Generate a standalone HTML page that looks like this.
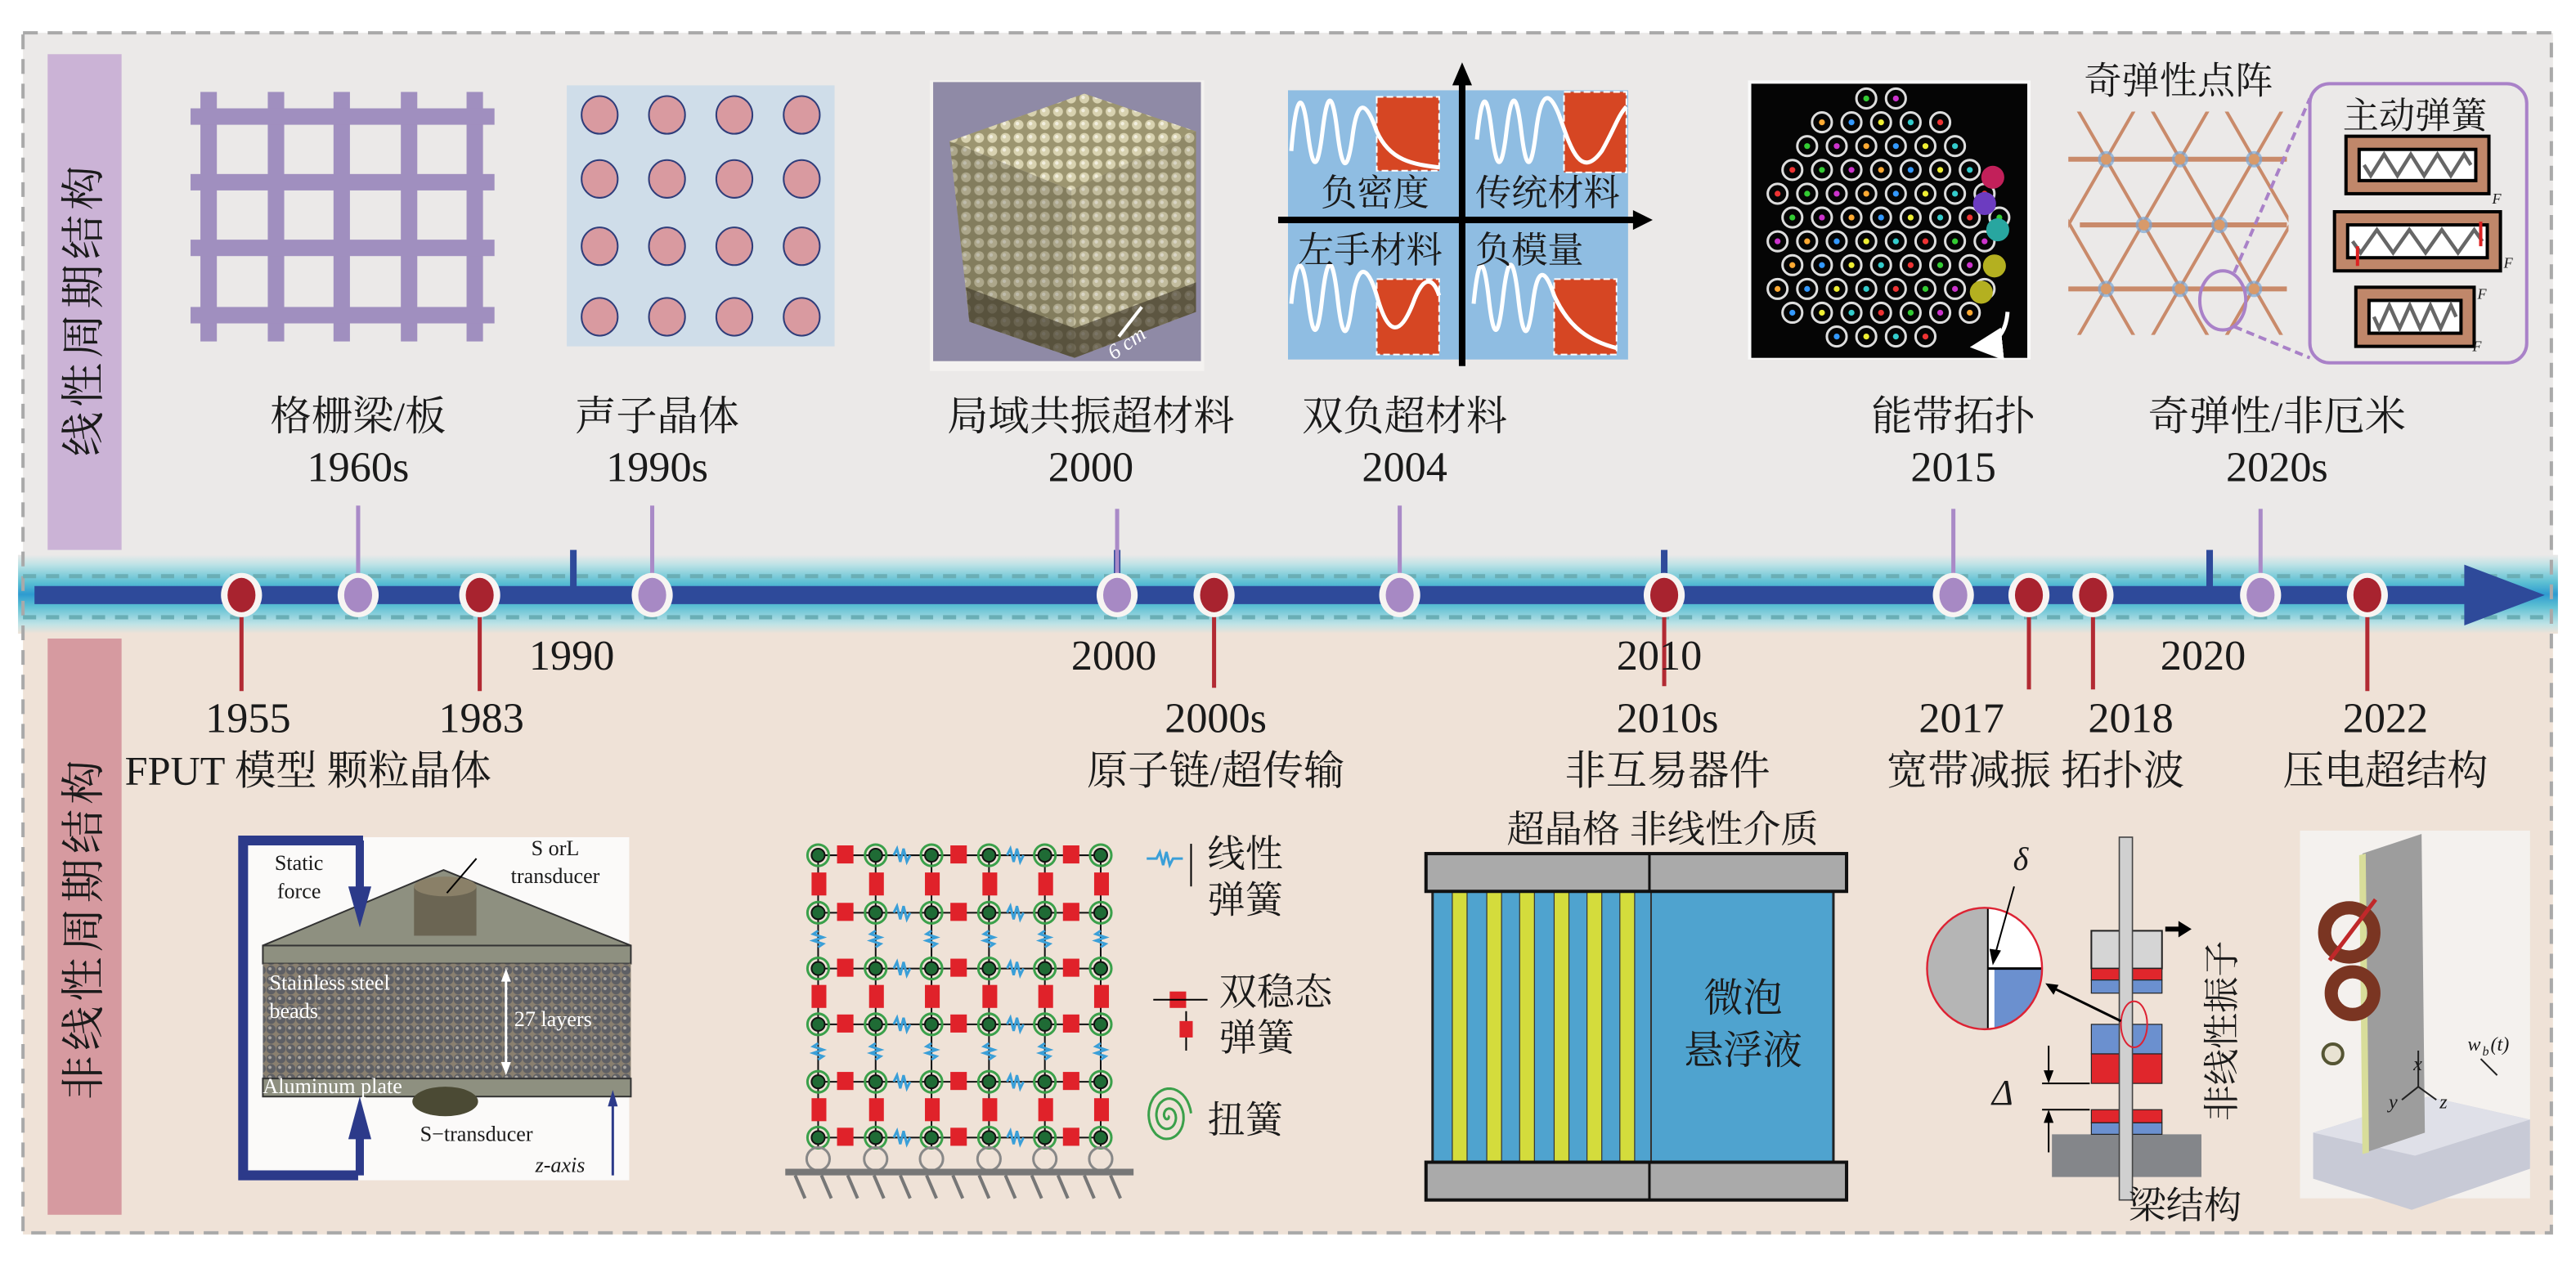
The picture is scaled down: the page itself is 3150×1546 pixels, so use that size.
<!DOCTYPE html>
<html><head><meta charset="utf-8"><style>
html,body{margin:0;padding:0;background:#fff;}
svg{display:block;}
text{font-family:"Liberation Serif","Noto Serif CJK SC","Noto Sans CJK SC",serif;fill:#1a1a1a;}
.cn{font-size:25px;}
.num{font-size:26px;}
</style></head><body>
<svg id="s" xmlns="http://www.w3.org/2000/svg" width="3150" height="1546" viewBox="0 0 1568 770" preserveAspectRatio="none">
<defs>
<linearGradient id="band" x1="0" y1="0" x2="0" y2="1">
<stop offset="0" stop-color="#ebe9e8"/>
<stop offset="0.12" stop-color="#bfe3e6"/>
<stop offset="0.35" stop-color="#5cbfd3"/>
<stop offset="0.5" stop-color="#2e9bd0"/>
<stop offset="0.65" stop-color="#5cbfd3"/>
<stop offset="0.88" stop-color="#bfe3e6"/>
<stop offset="1" stop-color="#efe2d7"/>
</linearGradient>
<pattern id="beads" width="6" height="6" patternUnits="userSpaceOnUse">
<rect width="6" height="6" fill="#8a8070"/>
<circle cx="3" cy="3" r="2.8" fill="#5e5f64"/><circle cx="2.3" cy="2.2" r="1" fill="#aaa6a0"/>
</pattern>
<pattern id="cubedots" width="8" height="8" patternUnits="userSpaceOnUse">
<rect width="8" height="8" fill="#9c9570"/>
<circle cx="4" cy="4" r="3" fill="#d8d2b0"/><circle cx="3.3" cy="3.3" r="1.1" fill="#f2efe0"/>
</pattern>
<clipPath id="latclip"><rect x="1259" y="68" width="134" height="136"/></clipPath>
<marker id="ah" markerWidth="8" markerHeight="8" refX="6" refY="4" orient="auto"><path d="M0,0 L8,4 L0,8 z" fill="#fff"/></marker>
</defs>

<rect x="14" y="20" width="1540" height="330" fill="#ebe9e8"/>
<rect x="14" y="370" width="1540" height="382" fill="#efe2d7"/>
<rect x="11" y="338" width="1546" height="48" fill="url(#band)"/>
<rect x="14" y="20" width="1539" height="731" fill="none" stroke="#a9a9a9" stroke-width="2" stroke-dasharray="9,6"/>
<line x1="14" y1="351" x2="1553" y2="351" stroke="#6aaeb5" stroke-width="2.5" stroke-dasharray="8,6"/>
<line x1="14" y1="376" x2="1553" y2="376" stroke="#6aaeb5" stroke-width="2.5" stroke-dasharray="8,6"/>

<rect x="29" y="33" width="45" height="302" fill="#cbb3d6"/>
<rect x="29" y="389" width="45" height="351" fill="#d69aa0"/>
<text class="cn" transform="translate(60,188) rotate(-90)" text-anchor="middle" style="font-size:27px;letter-spacing:3px">线性周期结构</text>
<text class="cn" transform="translate(60,565) rotate(-90)" text-anchor="middle" style="font-size:27px;letter-spacing:3px">非线性周期结构</text>

<rect x="21" y="357" width="1482" height="11" fill="#2e4a9a"/>
<polygon points="1500,344 1549,362.5 1500,381" fill="#2e4a9a"/>

<g fill="#2e4a9a">
<rect x="347" y="335" width="4" height="23"/><rect x="678" y="335" width="4" height="23"/>
<rect x="1011" y="335" width="4" height="23"/><rect x="1343" y="335" width="4" height="23"/>
</g>

<g stroke="#a98ac7" stroke-width="2.5">
<line x1="218" y1="308" x2="218" y2="355"/><line x1="397" y1="308" x2="397" y2="355"/>
<line x1="680" y1="310" x2="680" y2="355"/><line x1="852" y1="308" x2="852" y2="355"/>
<line x1="1189" y1="310" x2="1189" y2="355"/><line x1="1376" y1="310" x2="1376" y2="355"/>
</g>
<g stroke="#b22a33" stroke-width="2.5">
<line x1="147" y1="370" x2="147" y2="421"/><line x1="292" y1="370" x2="292" y2="421"/>
<line x1="739" y1="370" x2="739" y2="419"/><line x1="1013" y1="370" x2="1013" y2="418"/>
<line x1="1235" y1="370" x2="1235" y2="420"/><line x1="1274" y1="370" x2="1274" y2="420"/>
<line x1="1441" y1="370" x2="1441" y2="421"/>
</g>

<g id="markers"></g>

<g text-anchor="middle">
<text class="num" x="348" y="408">1990</text>
<text class="num" x="678" y="408">2000</text>
<text class="num" x="1010" y="408">2010</text>
<text class="num" x="1341" y="408">2020</text>
<text class="num" x="151" y="446">1955</text>
<text class="num" x="293" y="446">1983</text>
<text class="num" x="740" y="446">2000s</text>
<text class="num" x="1015" y="446">2010s</text>
<text class="num" x="1194" y="446">2017</text>
<text class="num" x="1297" y="446">2018</text>
<text class="num" x="1452" y="446">2022</text>
</g>
<text class="cn" x="76" y="478">FPUT 模型 颗粒晶体</text>
<text class="cn" x="740" y="478" text-anchor="middle">原子链/超传输</text>
<text class="cn" x="1015" y="478" text-anchor="middle">非互易器件</text>
<text class="cn" x="1239" y="478" text-anchor="middle">宽带减振 拓扑波</text>
<text class="cn" x="1452" y="478" text-anchor="middle">压电超结构</text>

<text class="cn" x="218" y="262" text-anchor="middle">格栅梁/板</text>
<text class="num" x="218" y="293" text-anchor="middle">1960s</text>
<text class="cn" x="400" y="262" text-anchor="middle">声子晶体</text>
<text class="num" x="400" y="293" text-anchor="middle">1990s</text>
<text class="cn" x="664" y="262" text-anchor="middle">局域共振超材料</text>
<text class="num" x="664" y="293" text-anchor="middle">2000</text>
<text class="cn" x="855" y="262" text-anchor="middle">双负超材料</text>
<text class="num" x="855" y="293" text-anchor="middle">2004</text>
<text class="cn" x="1189" y="262" text-anchor="middle">能带拓扑</text>
<text class="num" x="1189" y="293" text-anchor="middle">2015</text>
<text class="cn" x="1386" y="262" text-anchor="middle">奇弹性/非厄米</text>
<text class="num" x="1386" y="293" text-anchor="middle">2020s</text>

<g fill="#a08fbf">
<rect x="122" y="56" width="10" height="152"/><rect x="163" y="56" width="10" height="152"/>
<rect x="203" y="56" width="10" height="152"/><rect x="244" y="56" width="10" height="152"/>
<rect x="284" y="56" width="10" height="152"/>
<rect x="116" y="66" width="185" height="10"/><rect x="116" y="106" width="185" height="10"/>
<rect x="116" y="146" width="185" height="10"/><rect x="116" y="187" width="185" height="10"/>
</g>

<rect x="345" y="52" width="163" height="159" fill="#cfdde9"/>
<g id="pc" fill="#d99aa0" stroke="#2f3d7a" stroke-width="1"></g>

<!-- cube photo -->
<rect x="566" y="49" width="167" height="177" fill="#f4f2f0"/>
<rect x="568" y="50" width="163" height="170" fill="#8f8aa6"/>
<polygon points="578,86 660,57 728,80 652,116" fill="url(#cubedots)"/>
<polygon points="578,86 652,116 654,218 590,196" fill="url(#cubedots)"/>
<polygon points="652,116 728,80 728,190 654,218" fill="url(#cubedots)"/>
<polygon points="578,86 652,116 654,218 590,196" fill="#4a4535" opacity="0.3"/>
<polygon points="652,116 728,80 728,190 654,218" fill="#4a4535" opacity="0.15"/>
<polygon points="588,175 654,200 728,172 728,190 654,218 590,196" fill="#3c3528" opacity="0.6"/>
<line x1="681" y1="205" x2="695" y2="187" stroke="#fff" stroke-width="2"/>
<text x="674" y="217" transform="rotate(-35 680 212)" style="font-size:13px;font-style:italic;fill:#fff">6 cm</text>

<!-- double negative -->
<rect x="784" y="55" width="207" height="164" fill="#8fbde2"/>
<g fill="#d64623" stroke="#fff" stroke-width="1" stroke-dasharray="4,2">
<rect x="838" y="59" width="38" height="45"/><rect x="952" y="56" width="38" height="49"/>
<rect x="838" y="170" width="38" height="46"/><rect x="946" y="170" width="38" height="46"/>
</g>
<g fill="none" stroke="#fff" stroke-width="2.5">
<path d="M786,92 C789,55 793,55 796,80 C799,105 802,105 805,80 C808,55 811,55 814,80 C817,105 820,105 823,85 C826,60 831,60 838,80 C846,98 860,100 876,102"/>
<path d="M899,85 C902,55 905,55 908,80 C911,105 914,105 917,80 C920,55 923,55 926,80 C929,105 932,105 935,80 C938,55 943,55 949,70 C956,90 962,110 975,92 C982,80 985,70 990,65"/>
<path d="M786,185 C789,155 793,155 796,180 C799,208 802,208 805,180 C808,155 811,155 814,180 C817,208 820,208 823,185 C826,160 832,160 838,180 C845,205 852,205 860,185 C866,168 872,168 876,180"/>
<path d="M897,185 C900,155 903,155 906,180 C909,208 912,208 915,180 C918,155 921,155 924,180 C927,208 930,208 933,185 C936,160 941,165 946,180 C955,200 968,208 984,212"/>
</g>
<line x1="890" y1="50" x2="890" y2="223" stroke="#000" stroke-width="4"/>
<polygon points="884,52 890,38 896,52" fill="#000"/>
<line x1="778" y1="134" x2="996" y2="134" stroke="#000" stroke-width="4"/>
<polygon points="994,128 1006,134 994,140" fill="#000"/>
<text x="837" y="125" text-anchor="middle" style="font-size:22px">负密度</text>
<text x="942" y="125" text-anchor="middle" style="font-size:22px">传统材料</text>
<text x="834" y="160" text-anchor="middle" style="font-size:22px">左手材料</text>
<text x="931" y="160" text-anchor="middle" style="font-size:22px">负模量</text>

<!-- topology photo -->
<rect x="1064" y="49" width="172" height="170" fill="#fafafa"/>
<rect x="1066" y="51" width="168" height="167" fill="#050505"/>
<g id="topo"></g>
<path d="M1222,190 C1221,204 1214,210 1204,211" fill="none" stroke="#fff" stroke-width="2.5" marker-end="url(#ah)"/>

<!-- odd elasticity -->
<text x="1326" y="57" text-anchor="middle" style="font-size:23px">奇弹性点阵</text>
<g id="lat" clip-path="url(#latclip)" stroke="#c98a6a" stroke-width="2"></g>
<g stroke="#c98a6a" stroke-width="3">
<line x1="1259" y1="97" x2="1392" y2="97"/><line x1="1266" y1="137" x2="1392" y2="137"/><line x1="1259" y1="176" x2="1392" y2="176"/>
</g>
<g id="nodes"></g>
<ellipse cx="1353" cy="183" rx="14" ry="18" fill="none" stroke="#a981c8" stroke-width="2"/>
<line x1="1360" y1="166" x2="1406" y2="60" stroke="#a981c8" stroke-width="2" stroke-dasharray="5,3"/>
<line x1="1360" y1="199" x2="1406" y2="218" stroke="#a981c8" stroke-width="2" stroke-dasharray="5,3"/>
<rect x="1406" y="51" width="132" height="170" rx="12" fill="#ebe9e8" stroke="#a981c8" stroke-width="2"/>
<text x="1470" y="78" text-anchor="middle" style="font-size:22px">主动弹簧</text>
<g id="springs"></g>
<g style="font-size:9px;font-style:italic">
<text x="1517" y="124">F</text><text x="1524" y="163">F</text><text x="1508" y="182">F</text><text x="1505" y="214">F</text>
</g>

<!-- granular crystal -->
<rect x="146" y="510" width="237" height="209" fill="#fbfaf9"/>
<polygon points="160,576 270,530 384,576" fill="#8e9080" stroke="#333" stroke-width="1"/>
<rect x="252" y="540" width="38" height="30" fill="#6b6553"/>
<ellipse cx="271" cy="540" rx="19" ry="6" fill="#8a8068"/>
<line x1="272" y1="544" x2="290" y2="523" stroke="#000" stroke-width="1"/>
<rect x="160" y="576" width="224" height="11" fill="#8e9080" stroke="#333" stroke-width="1"/>
<rect x="160" y="587" width="224" height="70" fill="url(#beads)"/>
<rect x="160" y="657" width="224" height="11" fill="#8e9080" stroke="#333" stroke-width="1"/>
<ellipse cx="271" cy="671" rx="20" ry="9" fill="#4b4a34"/>
<path d="M221,512 L148,512 L148,716 L218,716" fill="none" stroke="#2c3a8a" stroke-width="6"/>
<line x1="219" y1="512" x2="219" y2="555" stroke="#2c3a8a" stroke-width="5"/>
<polygon points="212,540 219,565 226,540" fill="#2c3a8a"/>
<line x1="219" y1="716" x2="219" y2="680" stroke="#2c3a8a" stroke-width="5"/>
<polygon points="212,694 219,668 226,694" fill="#2c3a8a"/>
<line x1="373" y1="716" x2="373" y2="668" stroke="#2c3a8a" stroke-width="1.5"/>
<polygon points="370,674 373,664 376,674" fill="#2c3a8a"/>
<line x1="308" y1="592" x2="308" y2="653" stroke="#fff" stroke-width="1.5"/>
<polygon points="305,598 308,590 311,598" fill="#fff"/><polygon points="305,647 308,655 311,647" fill="#fff"/>
<g style="font-size:13px">
<text x="182" y="530" text-anchor="middle">Static</text>
<text x="182" y="547" text-anchor="middle">force</text>
<text x="338" y="521" text-anchor="middle">S orL</text>
<text x="338" y="538" text-anchor="middle">transducer</text>
<text x="164" y="603" style="fill:#fff">Stainless steel</text>
<text x="164" y="620" style="fill:#fff">beads</text>
<text x="313" y="625" style="fill:#fff">27 layers</text>
<text x="160" y="666" style="fill:#fff">Aluminum plate</text>
<text x="290" y="695" text-anchor="middle">S−transducer</text>
<text x="341" y="714" text-anchor="middle" style="font-style:italic">z-axis</text>
</g>

<!-- spring lattice -->
<g id="sl"></g>
<line x1="478" y1="714" x2="690" y2="714" stroke="#777" stroke-width="4"/>
<g id="hatch" stroke="#777" stroke-width="2"></g>
<g style="font-size:23px">
<text x="735" y="528">线性</text><text x="735" y="556">弹簧</text>
<text x="742" y="612">双稳态</text><text x="742" y="640">弹簧</text>
<text x="735" y="690">扭簧</text>
</g>
<g stroke="#3a9fd8" stroke-width="1.5" fill="none"><path d="M698,523 h6 l2,-4 l2,8 l2,-8 l2,8 l2,-4 h6"/></g>
<line x1="725" y1="514" x2="725" y2="540" stroke="#000"/>
<rect x="712" y="604" width="10" height="10" fill="#e0222a"/><line x1="702" y1="609" x2="735" y2="609" stroke="#000"/>
<line x1="722" y1="616" x2="722" y2="640" stroke="#000"/><rect x="718" y="622" width="8" height="10" fill="#e0222a"/>
<path id="spiral" fill="none" stroke="#3aa04a" stroke-width="1.5"/>

<!-- superlattice -->
<text x="1012" y="513" text-anchor="middle" style="font-size:23px">超晶格 非线性介质</text>
<rect x="872" y="543" width="244" height="165" fill="#4fa3cf" stroke="#222" stroke-width="1.5"/>
<g id="stripes" fill="#d4dc3c" stroke="#333" stroke-width="0.6"></g>
<line x1="1005" y1="543" x2="1005" y2="708" stroke="#333" stroke-width="1"/>
<rect x="868" y="520" width="256" height="23" fill="#aaa" stroke="#111" stroke-width="2"/>
<rect x="868" y="708" width="256" height="23" fill="#aaa" stroke="#111" stroke-width="2"/>
<line x1="1004" y1="520" x2="1004" y2="543" stroke="#111" stroke-width="1.5"/><line x1="1004" y1="708" x2="1004" y2="731" stroke="#111" stroke-width="1.5"/>
<text x="1061" y="616" text-anchor="middle" style="font-size:24px">微泡</text>
<text x="1061" y="648" text-anchor="middle" style="font-size:24px">悬浮液</text>

<!-- nonlinear oscillator -->
<rect x="1249" y="691" width="91" height="26" fill="#84868a"/>
<rect x="1273" y="567" width="43" height="23" fill="#d5d5d5" stroke="#222"/>
<rect x="1273" y="590" width="43" height="7" fill="#e0262c" stroke="#222" stroke-width="0.6"/>
<rect x="1273" y="597" width="43" height="8" fill="#6b90cf" stroke="#222" stroke-width="0.6"/>
<rect x="1273" y="624" width="43" height="18" fill="#6b90cf" stroke="#222" stroke-width="0.6"/>
<rect x="1273" y="642" width="43" height="18" fill="#e0262c" stroke="#222" stroke-width="0.6"/>
<rect x="1273" y="676" width="43" height="8" fill="#e0262c" stroke="#222" stroke-width="0.6"/>
<rect x="1273" y="684" width="43" height="7" fill="#6b90cf" stroke="#222" stroke-width="0.6"/>
<rect x="1290" y="510" width="8" height="221" fill="#d0d0d0" stroke="#444" stroke-width="0.8"/>
<line x1="1243" y1="660" x2="1272" y2="660" stroke="#000"/><line x1="1243" y1="676" x2="1272" y2="676" stroke="#000"/>
<line x1="1247" y1="637" x2="1247" y2="657" stroke="#000"/><polygon points="1244,652 1247,660 1250,652"/>
<line x1="1247" y1="679" x2="1247" y2="702" stroke="#000"/><polygon points="1244,684 1247,676 1250,684"/>
<text x="1219" y="673" text-anchor="middle" style="font-size:22px;font-style:italic">Δ</text>
<ellipse cx="1299" cy="624" rx="8" ry="14" fill="none" stroke="#d23" stroke-width="1"/>
<line x1="1291" y1="622" x2="1248" y2="601" stroke="#000" stroke-width="1.5"/><polygon points="1245,599 1253,600 1250,606"/>
<clipPath id="det"><ellipse cx="1208" cy="590" rx="35" ry="37"/></clipPath>
<g clip-path="url(#det)">
<rect x="1170" y="550" width="80" height="80" fill="#fff"/>
<rect x="1170" y="550" width="40" height="80" fill="#b5b5b5"/>
<rect x="1214" y="590" width="40" height="40" fill="#6b90cf"/>
<line x1="1210" y1="590" x2="1250" y2="590" stroke="#000" stroke-width="1.5"/>
<line x1="1210" y1="550" x2="1210" y2="630" stroke="#000" stroke-width="1"/>
</g>
<ellipse cx="1208" cy="590" rx="35" ry="37" fill="none" stroke="#d23" stroke-width="1.2"/>
<line x1="1226" y1="540" x2="1214" y2="583" stroke="#000"/><polygon points="1211,578 1213,588 1218,579"/>
<text x="1230" y="530" text-anchor="middle" style="font-size:20px;font-style:italic">δ</text>
<line x1="1318" y1="566" x2="1328" y2="566" stroke="#000" stroke-width="3"/><polygon points="1326,561 1334,566 1326,571"/>
<text transform="translate(1360,628) rotate(-90)" text-anchor="middle" style="font-size:22px">非线性振子</text>
<text x="1330" y="742" text-anchor="middle" style="font-size:23px">梁结构</text>

<!-- piezo photo -->
<rect x="1400" y="506" width="140" height="224" fill="#f4f1ee"/>
<polygon points="1408,690 1478,668 1540,682 1540,712 1468,737 1408,718" fill="#c8cad6"/>
<polygon points="1408,690 1478,668 1540,682 1470,704" fill="#dfe0e8"/>
<polygon points="1438,520 1474,508 1476,690 1440,702" fill="#9d9d9d"/>
<polygon points="1436,521 1440,520 1442,702 1438,703" fill="#d8dd9a"/>
<circle cx="1430" cy="568" r="15" fill="none" stroke="#7a3522" stroke-width="8"/>
<circle cx="1432" cy="605" r="13" fill="none" stroke="#7a3522" stroke-width="8"/>
<line x1="1418" y1="585" x2="1446" y2="548" stroke="#c0282a" stroke-width="2.5"/>
<circle cx="1420" cy="642" r="6" fill="#e8e2d2" stroke="#553" stroke-width="2"/>
<line x1="1472" y1="662" x2="1472" y2="640" stroke="#222"/><line x1="1472" y1="662" x2="1462" y2="670" stroke="#222"/><line x1="1472" y1="662" x2="1483" y2="670" stroke="#222"/>
<g style="font-size:12px;font-style:italic"><text x="1469" y="652">x</text><text x="1454" y="675">y</text><text x="1485" y="675">z</text><text x="1502" y="640">w</text><text x="1511" y="643" style="font-size:8px">b</text><text x="1516" y="640">(t)</text></g>
<line x1="1510" y1="645" x2="1520" y2="655" stroke="#222"/>
</svg>
<script>
var NS="http://www.w3.org/2000/svg";
function el(p,t,a){var e=document.createElementNS(NS,t);for(var k in a)e.setAttribute(k,a[k]);p.appendChild(e);return e;}
var m=document.getElementById('markers');
[[147,'r'],[218,'p'],[292,'r'],[397,'p'],[680,'p'],[739,'r'],[852,'p'],[1013,'r'],[1189,'p'],[1235,'r'],[1274,'r'],[1376,'p'],[1441,'r']].forEach(function(d){
el(m,'ellipse',{cx:d[0],cy:362.5,rx:12.5,ry:13.5,fill:'#f7f4f2'});
el(m,'ellipse',{cx:d[0],cy:362.5,rx:8.5,ry:10.5,fill:d[1]=='r'?'#a8232f':'#a789c4'});
});
var pc=document.getElementById('pc');
[365,406,447,488].forEach(function(x){[70,109,150,193].forEach(function(y){el(pc,'ellipse',{cx:x,cy:y,rx:11,ry:11.5});});});
var tp=document.getElementById('topo');
var cols=['#e33','#3c3','#c3c','#fa3','#39f','#ee3','#3cc'];var n=0;
for(var r=0;r<11;r++){for(var c=0;c<8;c++){var x=1082+c*18+(r%2)*9,y=60+r*14.5;
var dx=(x-1145)/75,dy=(y-135)/80;if(dx*dx+dy*dy>1)continue;n++;
el(tp,'circle',{cx:x,cy:y,r:6,fill:'none',stroke:'#ddd','stroke-width':1.5});
el(tp,'circle',{cx:x,cy:y,r:1.8,fill:cols[n%7]});}}
[[1213,108,'#c2205a'],[1208,124,'#6c3cc0'],[1216,140,'#28a6a0'],[1214,162,'#b4b020'],[1206,178,'#b4b020']].forEach(function(d){el(tp,'circle',{cx:d[0],cy:d[1],r:7,fill:d[2]});});
var lat=document.getElementById('lat');
[1192,1237,1282,1327,1372,1417,1462].forEach(function(x0){var s=23/40;
el(lat,'line',{x1:x0+(60-97)*s,y1:60,x2:x0+(210-97)*s,y2:210});
el(lat,'line',{x1:x0-(60-97)*s,y1:60,x2:x0-(210-97)*s,y2:210});});
var nd=document.getElementById('nodes');
[[1282,97],[1327,97],[1372,97],[1305,137],[1351,137],[1282,176],[1327,176],[1372,176]].forEach(function(d){
el(nd,'circle',{cx:d[0],cy:d[1],r:5,fill:'#7aa7d6',opacity:0.7});el(nd,'circle',{cx:d[0],cy:d[1],r:3.3,fill:'#d89a6a'});});
var sp=document.getElementById('springs');
[[1428,83,87,35],[1421,129,101,36],[1434,175,72,36]].forEach(function(b){
el(sp,'rect',{x:b[0],y:b[1],width:b[2],height:b[3],fill:'#c0876a',stroke:'#000','stroke-width':2});
el(sp,'rect',{x:b[0]+8,y:b[1]+8,width:b[2]-16,height:b[3]-16,fill:'#fff',stroke:'#000','stroke-width':2});
var d='M'+(b[0]+11)+','+(b[1]+b[3]/2);for(var i=0;i<8;i++){var xx=b[0]+11+(i+0.5)*(b[2]-22)/8;d+=' L'+xx+','+(b[1]+(i%2?11:b[3]-11));}
d+=' L'+(b[0]+b[2]-11)+','+(b[1]+b[3]/2);el(sp,'path',{d:d,fill:'none',stroke:'#666','stroke-width':2.2});});
el(sp,'line',{x1:1435,y1:150,x2:1435,y2:162,stroke:'#d22','stroke-width':2});el(sp,'line',{x1:1510,y1:135,x2:1510,y2:150,stroke:'#d22','stroke-width':2});
var sl=document.getElementById('sl');var X=[498,533,567,602,636,670],Y=[521,556,590,624,659,693];
X.forEach(function(x){el(sl,'line',{x1:x,y1:521,x2:x,y2:700,stroke:'#111','stroke-width':1});});
Y.forEach(function(y){el(sl,'line',{x1:498,y1:y,x2:670,y2:y,stroke:'#111','stroke-width':1});});
for(var i=0;i<6;i++)for(var j=0;j<6;j++){var x=X[i],y=Y[j];
if(i<5){var mx=(x+X[i+1])/2;if(i%2==0)el(sl,'rect',{x:mx-6,y:y-6,width:10,height:11,fill:'#e0222a'});else el(sl,'path',{d:'M'+(mx-6)+','+y+' l2,-4 l2,8 l2,-8 l2,8 l2,-4',fill:'none',stroke:'#3a9fd8','stroke-width':1.5});}
if(j<5){var my=(y+Y[j+1])/2;if(j%2==0)el(sl,'rect',{x:x-4,y:my-7,width:9,height:14,fill:'#e0222a'});else el(sl,'path',{d:'M'+x+','+(my-6)+' l-3,2 l6,2 l-6,2 l6,2 l-3,2',fill:'none',stroke:'#3a9fd8','stroke-width':1.5});}
el(sl,'circle',{cx:x,cy:y,r:6.5,fill:'none',stroke:'#3aa04a','stroke-width':1.5});
el(sl,'circle',{cx:x,cy:y,r:4,fill:'#1f6b35',stroke:'#111','stroke-width':1});}
X.forEach(function(x){el(sl,'circle',{cx:x,cy:706,r:7,fill:'none',stroke:'#888','stroke-width':1.5});});
var h=document.getElementById('hatch');for(var x=484;x<=686;x+=16)el(h,'line',{x1:x,y1:716,x2:x+6,y2:730});
var st=document.getElementById('stripes');[884,905,925,946,966,986].forEach(function(x){el(st,'rect',{x:x,y:543,width:9,height:165});});
var d='';for(var t=0;t<=6*Math.PI;t+=0.15){var r=0.75*t;var px=711+r*Math.cos(t),py=680+r*1.3*Math.sin(t);d+=(d?' L':'M')+px.toFixed(1)+','+py.toFixed(1);}
document.getElementById('spiral').setAttribute('d',d);
</script>
</body></html>
